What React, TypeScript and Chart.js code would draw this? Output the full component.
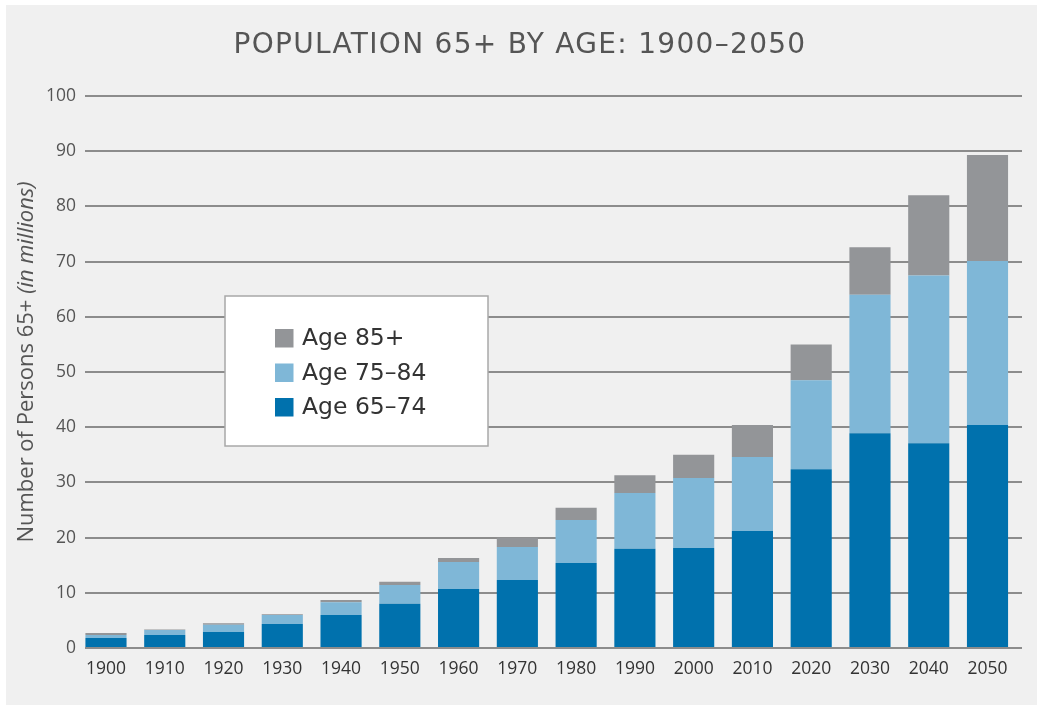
import React, { useEffect, useRef } from "react";
import { Chart, registerables } from "chart.js";

Chart.register(...registerables);

const years = [1900, 1910, 1920, 1930, 1940, 1950, 1960, 1970, 1980, 1990, 2000, 2010, 2020, 2030, 2040, 2050];
const age6574 = [1.8, 2.35, 2.9, 4.35, 6.0, 8.0, 10.7, 12.3, 15.4, 18.0, 18.1, 21.2, 32.4, 38.9, 37.1, 40.4];
const age7584 = [0.55, 0.9, 1.3, 1.65, 2.3, 3.4, 4.9, 6.0, 7.8, 10.1, 12.7, 13.4, 16.1, 25.1, 30.4, 29.7];
const age85 = [0.35, 0.1, 0.3, 0.1, 0.4, 0.6, 0.7, 1.7, 2.2, 3.2, 4.2, 5.8, 6.5, 8.6, 14.5, 19.2];
const yTicks = [0, 10, 20, 30, 40, 50, 60, 70, 80, 90, 100];
const titleText = "POPULATION 65+ BY AGE: 1900\u20132050";
const yTitleMain = "Number of Persons 65+ ";
const yTitleItalic = "(in millions)";

const FONT = "'Open Sans', sans-serif";
const WIDE = "'DejaVu Sans', sans-serif";

const overlayPlugin = {
  id: "overlay",
  afterDraw(chart: any) {
    const ctx = chart.ctx;
    ctx.save();
    // title
    ctx.fillStyle = "#555555";
    ctx.font = `28px ${WIDE}`;
    (ctx as any).letterSpacing = "1.3px";
    ctx.textAlign = "left";
    ctx.textBaseline = "middle";
    const tw = ctx.measureText(titleText).width;
    ctx.fillText(titleText, 514 - tw / 2, 41);
    (ctx as any).letterSpacing = "0px";

    // y axis title
    ctx.save();
    ctx.translate(21, 357);
    ctx.rotate(-Math.PI / 2);
    ctx.font = `22px ${FONT}`;
    const w1 = ctx.measureText(yTitleMain).width;
    ctx.font = `italic 22px ${FONT}`;
    const w2 = ctx.measureText(yTitleItalic).width;
    const start = -(w1 + w2) / 2;
    ctx.textAlign = "left";
    ctx.textBaseline = "middle";
    ctx.font = `22px ${FONT}`;
    ctx.fillText(yTitleMain, start, 0);
    ctx.font = `italic 22px ${FONT}`;
    ctx.fillText(yTitleItalic, start + w1, 0);
    ctx.restore();

    // legend box
    ctx.fillStyle = "#ffffff";
    ctx.fillRect(219, 291, 263, 150);
    ctx.strokeStyle = "#a8a8a8";
    ctx.lineWidth = 1.5;
    ctx.strokeRect(219, 291, 263, 150);
    const items = [...chart.data.datasets].reverse();
    items.forEach((ds: any, i: number) => {
      const y = 324 + i * 34.5;
      ctx.fillStyle = ds.backgroundColor;
      ctx.fillRect(269, y, 18.5, 18.5);
      ctx.fillStyle = "#333333";
      ctx.font = `23.5px ${WIDE}`;
      ctx.textAlign = "left";
      ctx.textBaseline = "middle";
      ctx.fillText(ds.label, 296, y + 10);
    });
    ctx.restore();
  },
};

export default function App() {
  const ref = useRef<HTMLCanvasElement>(null);
  useEffect(() => {
    const toPts = (arr: number[]) => years.map((y, i) => ({ x: y, y: arr[i] }));
    const chart = new Chart(ref.current!, {
      type: "bar",
      data: {
        datasets: [
          { label: "Age 65\u201374", data: toPts(age6574) as any, backgroundColor: "#0071ad", barPercentage: 0.7, categoryPercentage: 1 },
          { label: "Age 75\u201384", data: toPts(age7584) as any, backgroundColor: "#7fb7d7", barPercentage: 0.7, categoryPercentage: 1 },
          { label: "Age 85+", data: toPts(age85) as any, backgroundColor: "#939598", barPercentage: 0.7, categoryPercentage: 1 },
        ],
      },
      options: {
        animation: false,
        responsive: false,
        maintainAspectRatio: false,
        layout: { padding: { top: 91, right: 15, bottom: 0, left: 0 } },
        plugins: { legend: { display: false }, title: { display: false }, tooltip: { enabled: false } },
        scales: {
          x: {
            type: "linear",
            stacked: true,
            offset: false,
            min: 1896.43,
            max: 2055.87,
            grid: { display: false, offset: false },
            border: { display: false },
            afterBuildTicks: (scale: any) => {
              scale.ticks = years.map((v) => ({ value: v }));
            },
            afterFit: (scale: any) => {
              scale.height = 57;
            },
            ticks: {
              padding: 3,
              color: "#333333",
              font: { family: FONT, size: 17.5 },
              maxRotation: 0,
              autoSkip: false,
              callback: (v: any) => String(v),
            },
          },
          y: {
            stacked: true,
            min: 0,
            max: 100,
            afterBuildTicks: (scale: any) => {
              scale.ticks = yTicks.map((v) => ({ value: v }));
            },
            afterFit: (scale: any) => {
              scale.width = 79;
            },
            grid: { color: "#8c8c8c", lineWidth: 2, drawTicks: false },
            border: { display: false },
            ticks: {
              padding: 9,
              color: "#555555",
              font: { family: FONT, size: 17.5 },
            },
          },
        },
      },
      plugins: [overlayPlugin],
    });
    return () => chart.destroy();
  }, []);

  return (
    <div style={{ position: "absolute", left: 0, top: 0, width: 1037, height: 705, background: "#ffffff" }}>
      <div style={{ position: "absolute", left: 6, top: 5, width: 1031, height: 700, background: "#f0f0f0" }}>
        <canvas ref={ref} width={1031} height={700} style={{ width: 1031, height: 700, display: "block" }} />
      </div>
    </div>
  );
}
